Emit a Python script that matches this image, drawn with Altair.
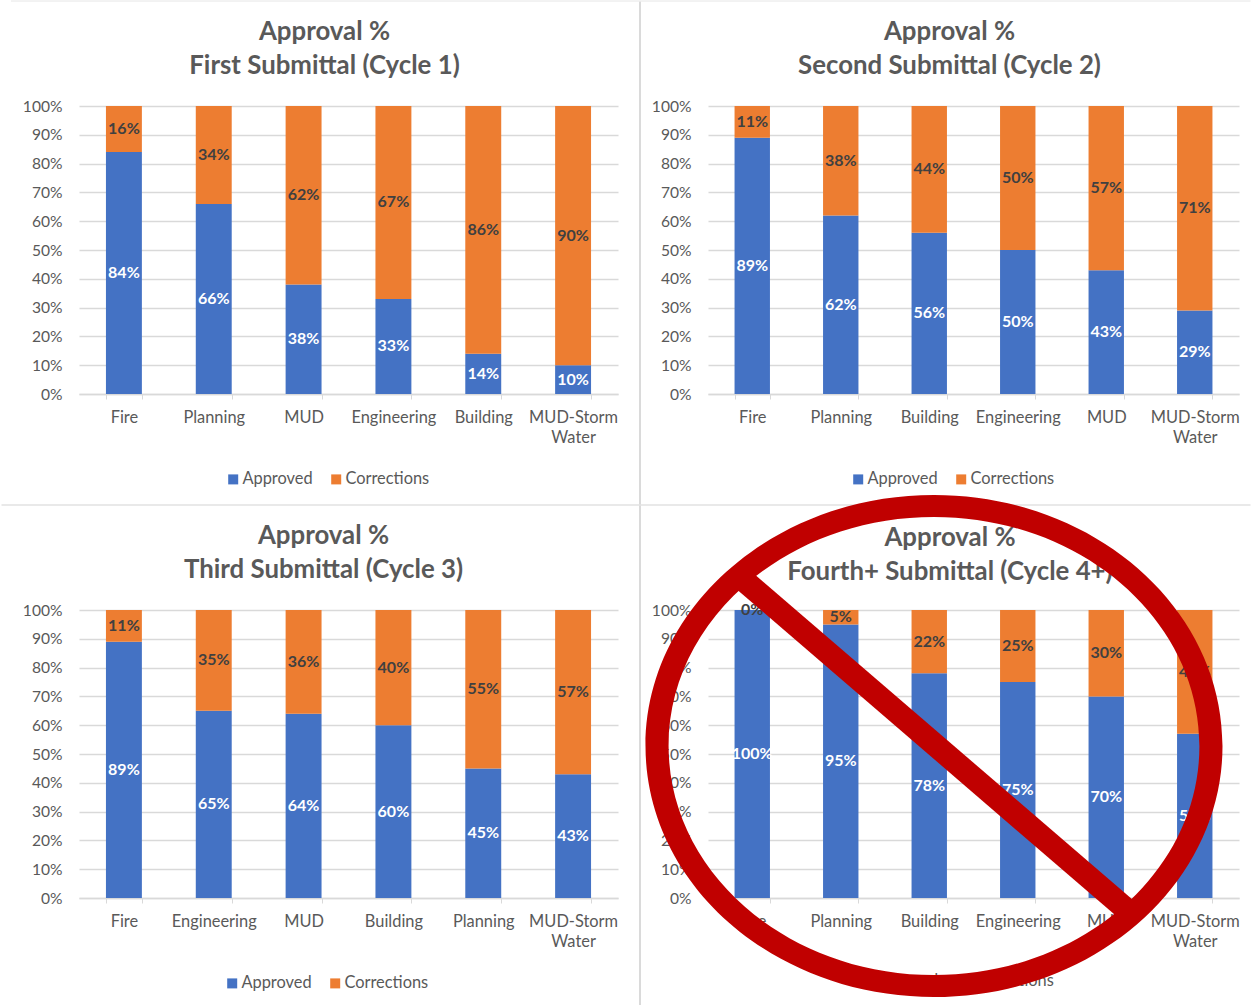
import altair as alt
import pandas as pd

TITLE_TOP = "Approval %"
SERIES = ["Approved", "Corrections"]
SERIES_COLORS = ["#4472C4", "#ED7D31"]

titles = [
    "First Submittal (Cycle 1)",
    "Second Submittal (Cycle 2)",
    "Third Submittal (Cycle 3)",
    "Fourth+ Submittal (Cycle 4+)",
]
departments = [
    ["Fire", "Planning", "MUD", "Engineering", "Building", "MUD-Storm Water"],
    ["Fire", "Planning", "Building", "Engineering", "MUD", "MUD-Storm Water"],
    ["Fire", "Engineering", "MUD", "Building", "Planning", "MUD-Storm Water"],
    ["Fire", "Planning", "Building", "Engineering", "MUD", "MUD-Storm Water"],
]
approved = [
    [84, 66, 38, 33, 14, 10],
    [89, 62, 56, 50, 43, 29],
    [89, 65, 64, 60, 45, 43],
    [100, 95, 78, 75, 70, 57],
]
corrections = [
    [16, 34, 62, 67, 86, 90],
    [11, 38, 44, 50, 57, 71],
    [11, 35, 36, 40, 55, 57],
    [0, 5, 22, 25, 30, 43],
]

FONT = "Lato"
TEXT_GRAY = "#595959"
LINE_GRAY = "#D9D9D9"
SIGN_RED = "#C00000"
PANEL_W = 539
PANEL_H = 288
TITLE_SIZE = 25.8
LABEL_SIZE = 16.4

one_row = pd.DataFrame({"n": [0]})


def panel(i, width, legend_x, title_dx, legend=True, extras=()):
    rows = []
    for d, a, c in zip(departments[i], approved[i], corrections[i]):
        rows.append({"dept": d, "series": SERIES[0], "rank": 0, "value": a})
        rows.append({"dept": d, "series": SERIES[1], "rank": 1, "value": c})
    base = (
        alt.Chart(pd.DataFrame(rows))
        .transform_stack(
            stack="value",
            groupby=["dept"],
            sort=[alt.SortField("rank", order="ascending")],
            as_=["low", "high"],
        )
        .transform_calculate(mid="(datum.low + datum.high) / 2", pct="datum.value + '%'")
    )
    x_axis = alt.Axis(
        labelAngle=0,
        labelFont=FONT,
        labelFontSize=LABEL_SIZE,
        labelColor=TEXT_GRAY,
        labelPadding=10,
        labelLineHeight=20.5,
        labelLimit=200,
        labelExpr="datum.label == 'MUD-Storm Water' ? ['MUD-Storm', 'Water'] : datum.label",
        domainColor=LINE_GRAY,
        domainWidth=1.5,
        tickColor=LINE_GRAY,
        tickWidth=1,
        tickSize=5,
        tickBand="extent",
        grid=False,
        title=None,
    )
    y_axis = alt.Axis(
        values=list(range(0, 101, 10)),
        labelExpr="datum.value + '%'",
        labelFont=FONT,
        labelFontSize=15.6,
        labelColor=TEXT_GRAY,
        labelPadding=17,
        labelOverlap=False,
        ticks=False,
        domain=False,
        gridColor=LINE_GRAY,
        gridWidth=1.5,
        title=None,
    )
    x_scale = alt.Scale(paddingInner=0.6, paddingOuter=0.3)
    y_scale = alt.Scale(domain=[0, 100], nice=False)
    legend_def = (
        alt.Legend(
            title=None,
            orient="none",
            direction="horizontal",
            legendX=legend_x,
            legendY=365,
            symbolType="square",
            symbolSize=100,
            symbolStrokeWidth=0,
            labelFont=FONT,
            labelFontSize=LABEL_SIZE,
            labelColor=TEXT_GRAY,
            labelOffset=1,
            columnPadding=15,
        )
        if legend
        else None
    )
    bars = base.mark_bar().encode(
        x=alt.X("dept:N", sort=departments[i], scale=x_scale, axis=x_axis),
        y=alt.Y("low:Q", scale=y_scale, axis=y_axis),
        y2="high:Q",
        color=alt.Color(
            "series:N",
            scale=alt.Scale(domain=SERIES, range=SERIES_COLORS),
            legend=legend_def,
        ),
    )
    labels = base.mark_text(font=FONT, fontSize=16, fontWeight="bold").encode(
        x=alt.X("dept:N", sort=departments[i], scale=x_scale, axis=x_axis),
        y=alt.Y("mid:Q", scale=y_scale, axis=y_axis),
        text="pct:N",
        color=alt.condition(
            alt.datum.series == SERIES[0], alt.value("white"), alt.value("#404040")
        ),
    )
    layered = alt.layer(bars, labels, *extras).properties(width=width, height=PANEL_H)
    if title_dx is None:
        return layered
    return layered.properties(
        title=alt.Title(
            [TITLE_TOP, titles[i]],
            font=FONT,
            fontSize=TITLE_SIZE,
            fontWeight="bold",
            color=TEXT_GRAY,
            lineHeight=34,
            anchor="middle",
            frame="group",
            dx=title_dx,
            offset=19,
        ),
    )


def rule(x, x2, y, y2, color, stroke):
    return (
        alt.Chart(one_row)
        .mark_rule(color=color, strokeWidth=stroke, strokeJoin="round")
        .encode(x=alt.value(x), x2=alt.value(x2), y=alt.value(y), y2=alt.value(y2))
    )


# The last panel carries its heading and key as plain marks, so that the
# prohibition sign can be drawn over them. Everything in this list is placed in
# pixels relative to that panel's plot origin, and later layers paint on top.
heading = (
    alt.Chart(one_row)
    .mark_text(
        text=[TITLE_TOP, titles[3]],
        font=FONT,
        fontSize=TITLE_SIZE,
        fontWeight="bold",
        color=TEXT_GRAY,
        lineHeight=34,
        align="center",
        baseline="middle",
    )
    .encode(x=alt.value(242), y=alt.value(-72.5))
)


def key_item(series, color, square_x, text_x):
    square = (
        alt.Chart(one_row)
        .mark_square(size=100, color=color, opacity=1)
        .encode(x=alt.value(square_x), y=alt.value(371))
    )
    text = (
        alt.Chart(one_row)
        .mark_text(
            text=series,
            font=FONT,
            fontSize=LABEL_SIZE,
            color=TEXT_GRAY,
            align="left",
            baseline="middle",
        )
        .encode(x=alt.value(text_x), y=alt.value(371))
    )
    return [square, text]


dividers = [
    rule(-68, -68, -608.5, 395, "#DADADA", 2),
    rule(-706.5, 542.5, -105, -105, "#E2E2E2", 1.5),
    rule(-697, 542.5, -609, -609, "#E6E6E6", 1),
]
ring = (
    alt.Chart(one_row)
    .mark_point(
        shape=(
            "M-1,0 A1,0.87 0 1,1 1,0 A1,0.87 0 1,1 -1,0 Z "
            "M-0.92,0 A0.92,0.794 0 1,0 0.92,0 A0.92,0.794 0 1,0 -0.92,0 Z"
        ),
        size=332929,
        filled=True,
        opacity=1,
        fill=SIGN_RED,
        strokeWidth=0,
    )
    .encode(x=alt.value(226), y=alt.value(136))
)
slash = rule(32, 419, -33, 300, SIGN_RED, 23)

p1 = panel(0, PANEL_W, 146, -24)
p2 = panel(1, 531, 142, -24)
p3 = panel(2, PANEL_W, 145, -25)
p4 = panel(
    3,
    531,
    142,
    None,
    legend=False,
    extras=[
        *dividers,
        heading,
        *key_item(SERIES[0], SERIES_COLORS[0], 150, 160),
        *key_item(SERIES[1], SERIES_COLORS[1], 254, 262),
        ring,
        slash,
    ],
)

chart = (
    alt.concat(
        p1,
        p2,
        p3,
        p4,
        columns=2,
        spacing={"row": 216, "column": 90},
        bounds="flush",
        padding=0,
        background="white",
    )
    .resolve_scale(color="independent")
    .configure_view(stroke=None)
)

chart.save("out.html", embed_options={"renderer": "svg", "actions": False})
